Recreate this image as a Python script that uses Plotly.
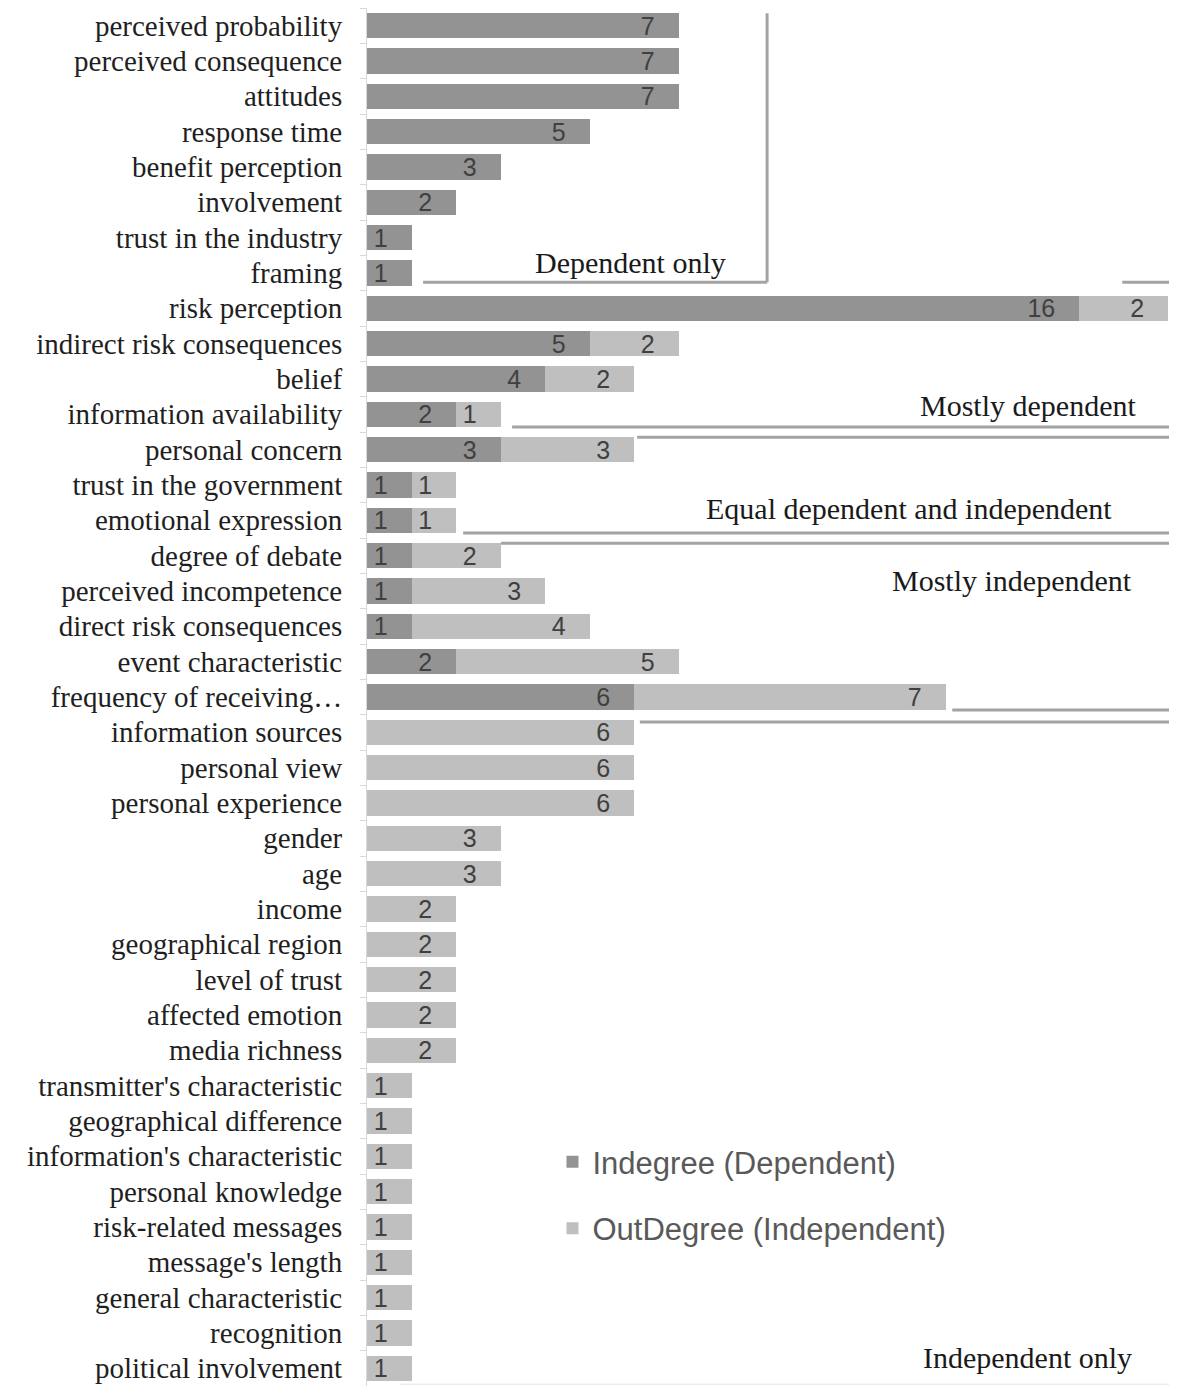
import plotly.graph_objects as go

categories = [
    "perceived probability", "perceived consequence", "attitudes", "response time",
    "benefit perception", "involvement", "trust in the industry", "framing",
    "risk perception", "indirect risk consequences", "belief", "information availability",
    "personal concern", "trust in the government", "emotional expression", "degree of debate",
    "perceived incompetence", "direct risk consequences", "event characteristic",
    "frequency of receiving…", "information sources", "personal view", "personal experience",
    "gender", "age", "income", "geographical region", "level of trust", "affected emotion",
    "media richness", "transmitter's characteristic", "geographical difference",
    "information's characteristic", "personal knowledge", "risk-related messages",
    "message's length", "general characteristic", "recognition", "political involvement",
]
indegree = [7, 7, 7, 5, 3, 2, 1, 1, 16, 5, 4, 2, 3, 1, 1, 1, 1, 1, 2, 6,
            None, None, None, None, None, None, None, None, None, None,
            None, None, None, None, None, None, None, None, None]
outdegree = [None, None, None, None, None, None, None, None, 2, 2, 2, 1, 3, 1, 1, 2, 3, 4, 5, 7,
             6, 6, 6, 3, 3, 2, 2, 2, 2, 2, 1, 1, 1, 1, 1, 1, 1, 1, 1]
series_names = ["Indegree (Dependent)", "OutDegree (Independent)"]
group_labels = ["Dependent only", "Mostly dependent", "Equal dependent and independent",
                "Mostly independent", "Independent only"]

DARK = "#939393"
LIGHT = "#bfbfbf"
PAD = "\u00a0" * 3
XMAX = 18.2

fig = go.Figure()
for name, vals, col, grp in [(series_names[0], indegree, DARK, "a"),
                             (series_names[1], outdegree, LIGHT, "b")]:
    fig.add_trace(go.Bar(
        y=categories, x=vals, orientation="h", name=name,
        marker=dict(color=col, line=dict(width=0)),
        texttemplate="%{x}" + PAD, textposition="inside", insidetextanchor="end",
        constraintext="none",
        textfont=dict(family="Liberation Sans, Arial, sans-serif", size=25, color="#404040"),
        legendgroup=grp,
    ))

LC = "#a3a3a3"
lines = [
    (8.99, -0.35, 8.99, 7.26),
    (1.26, 7.26, 8.99, 7.26),
    (16.97, 7.26, XMAX, 7.26),
    (3.26, 11.36, XMAX, 11.36),
    (6.07, 11.65, XMAX, 11.65),
    (2.16, 14.36, XMAX, 14.36),
    (3.01, 14.65, XMAX, 14.65),
    (13.15, 19.37, XMAX, 19.37),
    (6.13, 19.71, XMAX, 19.71),
]
for x0, y0, x1, y1 in lines:
    fig.add_shape(type="line", xref="x", yref="y", x0=x0, y0=y0, x1=x1, y1=y1,
                  line=dict(color=LC, width=3), layer="above")
fig.add_shape(type="line", xref="x", yref="y", x0=0.74, y0=38.45, x1=XMAX, y1=38.45,
              line=dict(color="#e3e3e3", width=1))

ann_pos = [(5.93, 6.69), (14.85, 10.74), (12.18, 13.66), (14.49, 15.7), (14.85, 37.69)]
for txt, (ax, ay) in zip(group_labels, ann_pos):
    fig.add_annotation(x=ax, y=ay, xref="x", yref="y", text=txt, showarrow=False,
                       font=dict(family="Liberation Serif, Times New Roman, serif",
                                 size=30, color="#1a1a1a"))

fig.update_layout(
    width=1169, height=1378,
    margin=dict(l=359, r=0, t=0, b=0, autoexpand=False),
    barmode="stack", bargap=0.29,
    plot_bgcolor="white", paper_bgcolor="white",
    showlegend=True,
    legend=dict(x=0.229, y=0.182, xanchor="left", yanchor="top",
                font=dict(family="Liberation Sans, Arial, sans-serif", size=31, color="#595959"),
                tracegroupgap=23, traceorder="grouped", bgcolor="rgba(0,0,0,0)"),
    xaxis=dict(range=[0, XMAX], showgrid=False, zeroline=False, showticklabels=False,
               showline=False, ticks="", automargin=False),
    yaxis=dict(autorange="reversed", categoryorder="array", categoryarray=categories,
               tickmode="linear", dtick=1, automargin=False,
               showline=True, linecolor="#d9d9d9", linewidth=1,
               ticks="outside", ticklen=6, tickcolor="#d9d9d9", tickson="boundaries",
               ticklabelstandoff=18,
               tickfont=dict(family="Liberation Serif, Times New Roman, serif", size=29,
                             color="#1f1f1f"),
               showgrid=False),
)

fig.write_html("out.html")
